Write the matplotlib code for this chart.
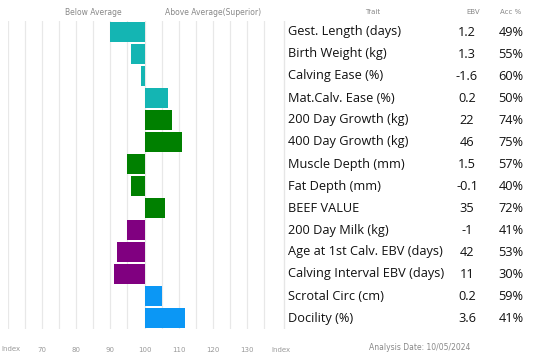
import matplotlib
matplotlib.use("Agg")
import matplotlib.pyplot as plt

# trait table data (top to bottom)
traits = [
    "Gest. Length (days)", "Birth Weight (kg)", "Calving Ease (%)",
    "Mat.Calv. Ease (%)", "200 Day Growth (kg)", "400 Day Growth (kg)",
    "Muscle Depth (mm)", "Fat Depth (mm)", "BEEF VALUE", "200 Day Milk (kg)",
    "Age at 1st Calv. EBV (days)", "Calving Interval EBV (days)",
    "Scrotal Circ (cm)", "Docility (%)",
]
ebv = ["1.2", "1.3", "-1.6", "0.2", "22", "46", "1.5", "-0.1", "35", "-1",
       "42", "11", "0.2", "3.6"]
acc = ["49%", "55%", "60%", "50%", "74%", "75%", "57%", "40%", "72%", "41%",
       "53%", "30%", "59%", "41%"]
index_vals = [90, 96, 99, 107, 108, 111, 95, 96, 106, 95, 92, 91, 105, 112]
groups = ["calving", "calving", "calving", "calving", "growth", "growth",
          "growth", "growth", "growth", "maternal", "maternal", "maternal",
          "other", "other"]

group_colors = {
    "calving": "#14b5b3",
    "growth": "#008000",
    "maternal": "#800080",
    "other": "#0b97f5",
}

tick_vals = [70, 80, 90, 100, 110, 120, 130, 140]
tick_labels = ["70", "80", "90", "100", "110", "120", "130", "Index"]
grid_vals = list(range(60, 140, 5))

W, H = 550, 362
fig = plt.figure(figsize=(W / 100, H / 100), dpi=100)

# bar area: x px 8..281, y px 21..329
ax = fig.add_axes([8 / W, (H - 329) / H, 273 / W, 308 / H])
n = len(traits)
rows = list(range(n))
for x in grid_vals:
    ax.axvline(x, color="#e8e8e8", lw=0.9, zorder=0)
for r, v, g in zip(rows, index_vals, groups):
    ax.barh(r, v - 100, left=100, height=0.9, color=group_colors[g],
            edgecolor="none", zorder=2)
ax.set_xlim(60, 140)
ax.set_ylim(n - 0.5, -0.5)
ax.set_yticks([])
ax.set_xticks(tick_vals)
ax.set_xticklabels(tick_labels, fontsize=5, color="#999999")
ax.tick_params(axis="x", length=0, pad=13)
for s in ax.spines.values():
    s.set_visible(False)

# left "Index" label sits at the 60 position, kept inside the figure edge
fig.text(1 / W, 1 - 349 / H, "Index", fontsize=5, color="#999999",
         ha="left", va="center")

ax.text((93 - 8) / 273 * 80 + 60, -0.9, "Below Average", fontsize=5.5,
        color="#888888", ha="center", va="center")
ax.text((213 - 8) / 273 * 80 + 60, -0.9, "Above Average(Superior)", fontsize=5.5,
        color="#888888", ha="center", va="center")

# table area: x px 283..550
ax2 = fig.add_axes([283 / W, (H - 329) / H, (W - 283) / W, 308 / H])
ax2.set_xlim(283, 550)
ax2.set_ylim(n - 0.5, -0.5)
ax2.axis("off")
ax2.axvline(283.5, color="#e6e6e6", lw=1)

for r in rows:
    ax2.text(288, r, traits[r], fontsize=9.2, family="Open Sans", color="#111111",
             ha="left", va="center")
    ax2.text(467, r, ebv[r], fontsize=9.2, family="Open Sans", color="#111111",
             ha="center", va="center")
    ax2.text(511, r, acc[r], fontsize=9.2, family="Open Sans", color="#111111",
             ha="center", va="center")

ax2.text(373, -0.9, "Trait", fontsize=5, color="#888888", ha="center", va="center")
ax2.text(473, -0.9, "EBV", fontsize=5, color="#888888", ha="center", va="center")
ax2.text(511, -0.9, "Acc %", fontsize=5, color="#888888", ha="center", va="center")

fig.text(420 / W, 1 - 348 / H, "Analysis Date: 10/05/2024", fontsize=5.5,
         color="#888888", ha="center", va="center")

fig.savefig("out.png", dpi=100)
